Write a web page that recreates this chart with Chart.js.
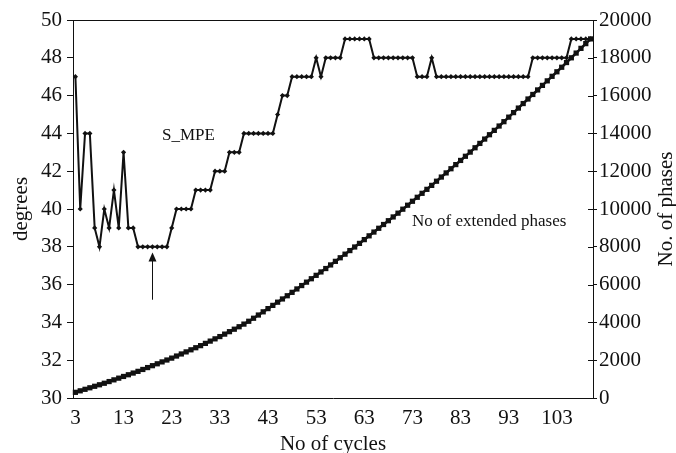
<!DOCTYPE html>
<html>
<head>
<meta charset="utf-8">
<title>S_MPE and number of extended phases</title>
<script src="https://cdn.jsdelivr.net/npm/chart.js@4.4.1/dist/chart.umd.min.js"></script>
<style>
  html, body { margin: 0; padding: 0; background: #fff; }
  #chart { display: block; }
</style>
</head>
<body>
<canvas id="chart" width="676" height="453"></canvas>
<script>
const cycles = [
  3, 4, 5, 6, 7, 8, 9, 10, 11, 12, 13, 14, 15, 16, 17, 18, 19, 20, 21, 22,
  23, 24, 25, 26, 27, 28, 29, 30, 31, 32, 33, 34, 35, 36, 37, 38, 39, 40, 41, 42,
  43, 44, 45, 46, 47, 48, 49, 50, 51, 52, 53, 54, 55, 56, 57, 58, 59, 60, 61, 62,
  63, 64, 65, 66, 67, 68, 69, 70, 71, 72, 73, 74, 75, 76, 77, 78, 79, 80, 81, 82,
  83, 84, 85, 86, 87, 88, 89, 90, 91, 92, 93, 94, 95, 96, 97, 98, 99, 100, 101, 102,
  103, 104, 105, 106, 107, 108, 109, 110,
];
const xTickLabels = [3, 13, 23, 33, 43, 53, 63, 73, 83, 93, 103];

// degrees, one per cycle
const sMpe = [
  47, 40, 44, 44, 39, 38, 40, 39, 41, 39, 43, 39, 39, 38, 38, 38, 38, 38, 38, 38,
  39, 40, 40, 40, 40, 41, 41, 41, 41, 42, 42, 42, 43, 43, 43, 44, 44, 44, 44, 44,
  44, 44, 45, 46, 46, 47, 47, 47, 47, 47, 48, 47, 48, 48, 48, 48, 49, 49, 49, 49,
  49, 49, 48, 48, 48, 48, 48, 48, 48, 48, 48, 47, 47, 47, 48, 47, 47, 47, 47, 47,
  47, 47, 47, 47, 47, 47, 47, 47, 47, 47, 47, 47, 47, 47, 47, 48, 48, 48, 48, 48,
  48, 48, 48, 49, 49, 49, 49, 49,
];

// number of phases, one per cycle
const extendedPhases = [
  300, 380, 460, 540, 620, 700, 780, 870, 960, 1050, 1140, 1230, 1320, 1410, 1510, 1610, 1710, 1810, 1910, 2010,
  2110, 2220, 2330, 2440, 2550, 2660, 2770, 2890, 3010, 3130, 3250, 3380, 3510, 3640, 3770, 3910, 4060, 4220, 4390, 4560,
  4730, 4900, 5070, 5240, 5410, 5590, 5770, 5950, 6130, 6310, 6490, 6670, 6850, 7040, 7230, 7420, 7610, 7800, 7990, 8180,
  8380, 8580, 8780, 8980, 9180, 9380, 9580, 9780, 9990, 10200, 10410, 10620, 10830, 11040, 11250, 11470, 11690, 11910, 12130, 12350,
  12570, 12790, 13010, 13240, 13470, 13700, 13930, 14160, 14390, 14620, 14860, 15100, 15340, 15580, 15820, 16060, 16300, 16540, 16780, 17020,
  17260, 17500, 17750, 18000, 18250, 18500, 18750, 19000,
];

const serif = "'Liberation Serif', 'Times New Roman', serif";
const ink = '#111';

const decor = {
  id: 'decor',
  afterDraw(chart) {
    const { ctx, chartArea: area, scales } = chart;
    ctx.save();
    ctx.strokeStyle = ink;
    ctx.fillStyle = ink;
    ctx.lineWidth = 1;

    // top edge of the plot frame
    ctx.beginPath();
    ctx.moveTo(area.left, area.top + 0.5);
    ctx.lineTo(area.right, area.top + 0.5);
    ctx.stroke();

    // right axis ticks also reach inside
    scales.phases.ticks.forEach(t => {
      const y = Math.round(scales.phases.getPixelForValue(t.value)) + 0.5;
      ctx.beginPath();
      ctx.moveTo(area.right - 5, y);
      ctx.lineTo(area.right, y);
      ctx.stroke();
    });

    // arrow pointing at the minimum
    const ax = Math.round(scales.x.getPixelForValue(cycles.indexOf(19))) + 0.5;
    const tip = scales.deg.getPixelForValue(37.7);
    const tail = scales.deg.getPixelForValue(35.2);
    ctx.beginPath();
    ctx.moveTo(ax, tail);
    ctx.lineTo(ax, tip + 8);
    ctx.stroke();
    ctx.beginPath();
    ctx.moveTo(ax, tip);
    ctx.lineTo(ax - 4, tip + 9);
    ctx.lineTo(ax + 4, tip + 9);
    ctx.closePath();
    ctx.fill();

    // series notes
    ctx.font = `17px ${serif}`;
    ctx.textBaseline = 'alphabetic';
    ctx.textAlign = 'left';
    ctx.fillText('S_MPE', 162, 140);
    ctx.fillText('No of extended phases', 412, 226);

    // axis titles
    ctx.font = `21px ${serif}`;
    ctx.textAlign = 'center';
    ctx.fillText('No of cycles', (area.left + area.right) / 2, 450);

    const midY = (area.top + area.bottom) / 2;
    ctx.save();
    ctx.translate(27, midY);
    ctx.rotate(-Math.PI / 2);
    ctx.fillText('degrees', 0, 0);
    ctx.restore();

    ctx.save();
    ctx.translate(672, midY);
    ctx.rotate(-Math.PI / 2);
    ctx.fillText('No. of phases', 0, 0);
    ctx.restore();

    ctx.restore();
  },
};

new Chart(document.getElementById('chart'), {
  type: 'line',
  data: {
    labels: cycles,
    datasets: [
      {
        label: 'S_MPE',
        data: sMpe,
        yAxisID: 'deg',
        borderColor: ink,
        borderWidth: 2,
        pointStyle: 'rectRot',
        pointRadius: 2.6,
        pointBackgroundColor: ink,
        pointBorderWidth: 0,
        tension: 0,
      },
      {
        label: 'No of extended phases',
        data: extendedPhases,
        yAxisID: 'phases',
        borderColor: ink,
        borderWidth: 2.6,
        pointStyle: 'rect',
        pointRadius: 3.7,
        pointBackgroundColor: ink,
        pointBorderWidth: 0,
        tension: 0,
      },
    ],
  },
  options: {
    responsive: false,
    animation: false,
    layout: { padding: { top: 20, left: 0, right: 0, bottom: 0 } },
    plugins: {
      legend: { display: false },
      tooltip: { enabled: false },
    },
    scales: {
      x: {
        type: 'category',
        offset: true,
        grid: { display: false, drawTicks: false },
        border: { display: true, color: ink, width: 1 },
        ticks: {
          autoSkip: false,
          maxRotation: 0,
          padding: 8,
          color: ink,
          font: { family: serif, size: 21 },
          callback(value) {
            const c = cycles[value];
            return xTickLabels.includes(c) ? String(c) : '';
          },
        },
        afterFit(scale) { scale.height = 55; },
      },
      deg: {
        position: 'left',
        min: 30,
        max: 50,
        grid: { drawOnChartArea: false, drawTicks: true, tickLength: 6, color: ink },
        border: { display: true, color: ink, width: 1 },
        ticks: {
          stepSize: 2,
          padding: 5,
          color: ink,
          font: { family: serif, size: 21 },
          callback: value => String(value),
        },
        afterFit(scale) { scale.width = 73; },
      },
      phases: {
        position: 'right',
        min: 0,
        max: 20000,
        grid: { drawOnChartArea: false, drawTicks: true, tickLength: 4, color: ink },
        border: { display: true, color: ink, width: 1 },
        ticks: {
          stepSize: 2000,
          padding: 2,
          color: ink,
          font: { family: serif, size: 21 },
          callback: value => String(value),
        },
        afterFit(scale) { scale.width = 83; },
      },
    },
  },
  plugins: [decor],
});
</script>
</body>
</html>
